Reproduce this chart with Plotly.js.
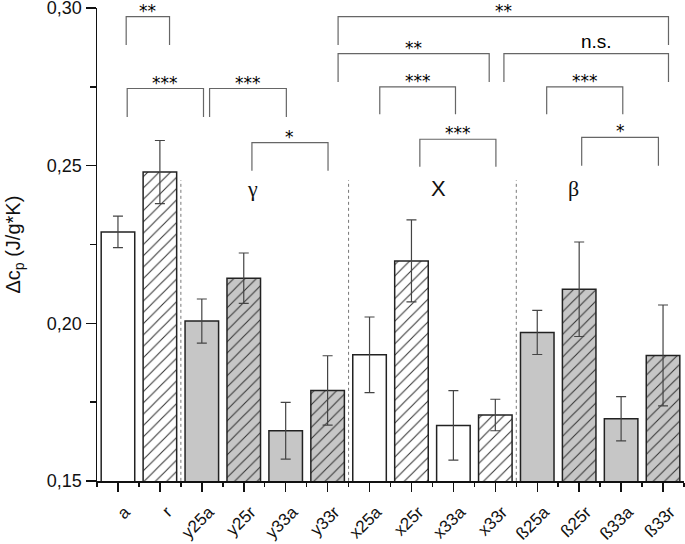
<!DOCTYPE html>
<html><head><meta charset="utf-8">
<script src="https://cdn.plot.ly/plotly-3.0.1.min.js"></script>
<style>html,body{margin:0;padding:0;background:#fff}#chart{width:685px;height:544px}</style>
</head><body><div id="chart"></div>
<script>
const categories = ['a','r','y25a','y25r','y33a','y33r','x25a','x25r','x33a','x33r','ß25a','ß25r','ß33a','ß33r'];
const meanCp = [0.229,0.248,0.2007,0.2143,0.1659,0.1787,0.1900,0.2198,0.1676,0.1709,0.1971,0.2108,0.1697,0.1898];
const errCp  = [0.005,0.010,0.007,0.008,0.009,0.011,0.012,0.013,0.011,0.005,0.007,0.015,0.007,0.016];
const fillKind = ['white','white','gray','gray','gray','gray','white','white','white','white','gray','gray','gray','gray'];
const hatched  = [false,true,false,true,false,true,false,true,false,true,false,true,false,true];
const yTickVals = [0.15,0.20,0.25,0.30];
const yTickText = ['0,15','0,20','0,25','0,30'];
const yTitle = 'Δc<sub>p</sub> (J/g*K)';
const groupLabels = [
  {text:'γ', x:3.22, y:0.2428},
  {text:'X', x:7.64, y:0.2428},
  {text:'β', x:10.87, y:0.2428}
];
const separators = [1.5, 5.5, 9.5];
const separatorTop = 0.2454;
// significance brackets: [x0, x1, yTop, yLeg, label]
const brackets = [
  [0.196, 1.23, 0.2973, 0.2883, '**'],
  [0.22, 2.04, 0.2745, 0.2655, '***'],
  [2.185, 4.016, 0.2745, 0.2655, '***'],
  [3.195, 5.01, 0.2573, 0.2484, '*'],
  [5.25, 13.13, 0.2973, 0.2883, '**'],
  [5.25, 8.854, 0.2856, 0.2766, '**'],
  [9.205, 13.13, 0.2856, 0.2766, 'n.s.'],
  [6.244, 8.05, 0.2750, 0.2663, '***'],
  [7.2, 9.014, 0.2584, 0.2497, '***'],
  [10.225, 12.04, 0.2750, 0.2663, '***'],
  [11.06, 12.89, 0.2590, 0.2500, '*']
];

const FONT = 'Liberation Sans, Arial, sans-serif';
const idx = categories.map((c,i)=>i);
const colorMap = {white:'#ffffff', gray:'#c6c6c6'};

const traces = [];
['white','gray'].forEach(kind=>{
  [false,true].forEach(h=>{
    const sel = idx.filter(i=>fillKind[i]===kind && hatched[i]===h);
    const marker = {color: colorMap[kind], line:{color:'#222', width:1.5}};
    if (h) marker.pattern = {shape:'/', fgcolor:'#333', bgcolor:colorMap[kind], size:8, solidity:0.13, fillmode:'replace'};
    traces.push({
      type:'bar', x: sel, y: sel.map(i=>meanCp[i]), width:0.8, marker,
      error_y:{type:'data', array: sel.map(i=>errCp[i]), visible:true, color:'#444', thickness:1.2, width:5},
      hoverinfo:'skip'
    });
  });
});

const shapes = [];
separators.forEach(s=>shapes.push({type:'line', xref:'x', yref:'y', x0:s, x1:s, y0:0.15, y1:separatorTop,
  line:{color:'#777', width:1, dash:'dot'}}));
const annotations = [];
brackets.forEach(b=>{
  const [x0,x1,yt,yl,lab]=b;
  shapes.push({type:'path', xref:'x', yref:'y',
    path:`M ${x0},${yl} L ${x0},${yt} L ${x1},${yt} L ${x1},${yl}`,
    line:{color:'#666', width:1.2}});
  const ns = lab==='n.s.';
  annotations.push({xref:'x', yref:'y', x: ns ? (x0+x1)/2+0.25 : (x0+x1)/2, y: yt, text: lab,
    showarrow:false, xanchor:'center', yanchor:'bottom', yshift: ns ? 0 : -6,
    font:{family: ns ? FONT : 'DejaVu Sans, sans-serif', size: ns?19:17, color:'#000'}});
});
groupLabels.forEach(g=>annotations.push({xref:'x', yref:'y', x:g.x, y:g.y, text:g.text, showarrow:false,
  xanchor:'center', yanchor:'middle', font:{family: g.text==='X'?FONT:'Liberation Serif, serif', size:22, color:'#111'}}));
annotations.push({xref:'paper', yref:'paper', x:(14-97)/587, y:0.50, text:yTitle, textangle:-90, showarrow:false,
  xanchor:'center', yanchor:'middle', font:{family:FONT, size:20, color:'#111'}});

const minorX = [];
for (let i=0;i<=categories.length;i++) minorX.push(i-0.5);

const layout = {
  width:685, height:544,
  margin:{l:97, r:1, t:8, b:63, pad:0},
  paper_bgcolor:'#fff', plot_bgcolor:'#fff',
  showlegend:false, barmode:'overlay',
  font:{family:FONT, color:'#111'},
  xaxis:{range:[-0.5,13.5], tickmode:'array', tickvals: idx, ticktext: categories, tickangle:-45,
    ticks:'outside', ticklen:9, tickwidth:1.5, tickcolor:'#111', showline:true, linecolor:'#111', linewidth:1.5,
    showgrid:false, zeroline:false, tickfont:{family:FONT, size:17, color:'#111'},
    ticklabelstandoff:4, ticklabelshift:7, ticklabeloverflow:'allow',
    minor:{tickmode:'array', tickvals:minorX, ticks:'outside', ticklen:4, tickwidth:1.5, tickcolor:'#111', showgrid:false}},
  yaxis:{range:[0.14995,0.30005], tickmode:'array', tickvals:yTickVals, ticktext:yTickText,
    ticks:'outside', ticklen:10, tickwidth:1.5, tickcolor:'#111', showline:true, linecolor:'#111', linewidth:1.5,
    showgrid:false, zeroline:false, tickfont:{family:FONT, size:18, color:'#111'}, ticklabeloverflow:'allow',
    minor:{tickmode:'array', tickvals:[0.175,0.225,0.275], ticks:'outside', ticklen:6, tickwidth:1.5, tickcolor:'#111', showgrid:false}},
  shapes, annotations
};
Plotly.newPlot('chart',traces,layout,{displayModeBar:false, staticPlot:true});
</script></body></html>
